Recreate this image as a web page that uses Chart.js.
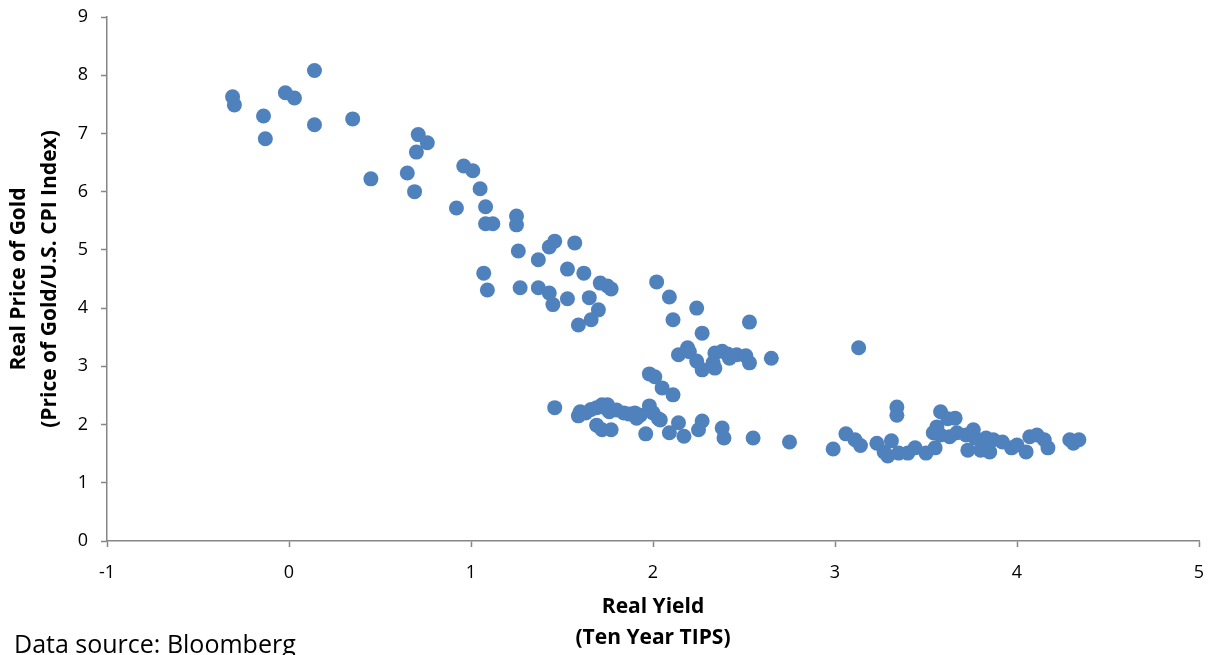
<!DOCTYPE html>
<html>
<head>
<meta charset="utf-8">
<script src="https://cdn.jsdelivr.net/npm/chart.js@4"></script>
<style>
  html, body { margin: 0; padding: 0; background: #fff; }
  #wrap { position: relative; width: 1216px; height: 655px; }
  #note { position: absolute; left: 14px; top: 626px; font: 25px "Open Sans", sans-serif; color: #000; white-space: nowrap; }
</style>
</head>
<body>
<div id="wrap">
  <canvas id="goldChart" width="1216" height="655"></canvas>
  <div id="note">Data source: Bloomberg</div>
</div>
<script>
// real yield (10y TIPS), %
const realYield = [
  -0.31, -0.30, -0.14, -0.13, -0.02, 0.03, 0.14, 0.14, 0.35, 0.45,
  0.65, 0.71, 0.76, 0.70, 0.69, 0.92, 0.96, 1.01, 1.05, 1.08,
  1.08, 1.12, 1.25, 1.25, 1.07, 1.09, 1.26, 1.27, 1.37, 1.37,
  1.43, 1.46, 1.57, 1.43, 1.45, 1.53, 1.62, 1.53, 1.65, 1.71,
  1.75, 1.77, 1.70, 1.66, 1.59, 2.02, 2.09, 2.24, 2.11, 2.27,
  2.53, 2.14, 2.19, 2.20, 2.24, 2.27, 2.33, 2.34, 2.34, 2.38,
  2.41, 2.42, 2.46, 2.51, 2.53, 2.65, 3.13,
  1.46, 1.59, 1.60, 1.63, 1.69, 1.72, 1.75, 1.76, 1.69, 1.72,
  1.77, 1.84, 1.90, 1.91, 1.98, 1.98, 2.01, 2.05, 2.11, 1.96,
  2.04, 2.09, 2.14, 2.17, 2.25, 2.27, 2.38, 2.39, 2.55, 2.75,
  1.66, 1.73, 1.80, 1.87, 1.93, 2.00, 2.03,
  3.34, 3.34, 2.99, 3.06, 3.11, 3.14, 3.23, 3.31, 3.27, 3.29,
  3.35, 3.40, 3.44, 3.50, 3.55, 3.58, 3.62, 3.66, 3.56, 3.54,
  3.58, 3.63, 3.67, 3.72, 3.76, 3.77, 3.73, 3.80, 3.85, 3.83,
  3.87, 3.92, 3.97, 4.00, 4.05, 4.07, 4.11, 4.15, 4.17, 4.29,
  4.31, 4.34
];
// gold price / US CPI index
const realGold = [
  7.63, 7.49, 7.30, 6.91, 7.70, 7.61, 8.08, 7.15, 7.25, 6.22,
  6.32, 6.98, 6.84, 6.68, 6.00, 5.72, 6.44, 6.36, 6.05, 5.74,
  5.45, 5.45, 5.58, 5.43, 4.60, 4.31, 4.98, 4.35, 4.83, 4.35,
  5.05, 5.15, 5.12, 4.26, 4.06, 4.67, 4.60, 4.16, 4.18, 4.43,
  4.38, 4.33, 3.97, 3.80, 3.71, 4.45, 4.19, 4.00, 3.80, 3.57,
  3.76, 3.20, 3.32, 3.25, 3.09, 2.94, 3.06, 2.97, 3.23, 3.26,
  3.21, 3.14, 3.20, 3.18, 3.06, 3.14, 3.32,
  2.29, 2.15, 2.22, 2.20, 2.29, 2.34, 2.34, 2.22, 1.99, 1.91,
  1.91, 2.20, 2.20, 2.11, 2.32, 2.87, 2.82, 2.63, 2.51, 1.84,
  2.08, 1.86, 2.03, 1.80, 1.91, 2.06, 1.94, 1.77, 1.77, 1.70,
  2.26, 2.30, 2.25, 2.18, 2.16, 2.20, 2.10,
  2.30, 2.16, 1.58, 1.84, 1.74, 1.64, 1.68, 1.72, 1.53, 1.46,
  1.51, 1.51, 1.60, 1.51, 1.60, 2.22, 2.10, 2.11, 1.96, 1.86,
  1.82, 1.79, 1.86, 1.82, 1.91, 1.77, 1.56, 1.56, 1.53, 1.77,
  1.74, 1.70, 1.60, 1.65, 1.53, 1.79, 1.82, 1.74, 1.60, 1.74,
  1.68, 1.74
];
const xTicks = [-1, 0, 1, 2, 3, 4, 5];
const yTicks = [0, 1, 2, 3, 4, 5, 6, 7, 8, 9];

const points = realYield.map((x, i) => ({ x: x, y: realGold[i] }));
const tickFont = { family: "Open Sans", size: 18 };
const titleFont = { family: "Open Sans", size: 21, weight: "bold", lineHeight: 1.45 };

new Chart(document.getElementById('goldChart').getContext('2d'), {
  type: 'scatter',
  data: {
    datasets: [{
      label: 'Real Price of Gold',
      data: points,
      backgroundColor: '#4f81bd',
      borderColor: '#4f81bd',
      pointRadius: 7.5,
      pointHoverRadius: 7.5,
      borderWidth: 0
    }]
  },
  options: {
    responsive: false,
    animation: false,
    layout: { padding: { left: 0, right: 17, top: 17, bottom: 0 } },
    plugins: { legend: { display: false }, tooltip: { enabled: false } },
    scales: {
      x: {
        type: 'linear',
        min: xTicks[0],
        max: xTicks[xTicks.length - 1],
        afterBuildTicks: s => { s.ticks = xTicks.map(v => ({ value: v })); },
        afterFit: s => { s.height = 114; s.paddingLeft = 0; s.paddingRight = 0; },
        border: { color: '#868686', width: 1.5 },
        grid: { drawOnChartArea: false, tickLength: 6, tickColor: '#868686', tickWidth: 1.5 },
        ticks: { color: '#000', font: tickFont, padding: 15 },
        title: {
          display: true,
          text: ['Real Yield', '(Ten Year TIPS)'],
          color: '#000',
          font: titleFont,
          padding: { top: 10, bottom: 2 }
        }
      },
      y: {
        type: 'linear',
        min: yTicks[0],
        max: yTicks[yTicks.length - 1],
        afterBuildTicks: s => { s.ticks = yTicks.map(v => ({ value: v })); },
        afterFit: s => { s.width = 107; s.paddingTop = 0; s.paddingBottom = 0; },
        border: { color: '#868686', width: 1.5 },
        grid: { drawOnChartArea: false, tickLength: 6, tickColor: '#868686', tickWidth: 1.5 },
        ticks: { color: '#000', font: tickFont, padding: 13 },
        title: {
          display: true,
          text: ['Real Price of Gold', '(Price of Gold/U.S. CPI Index)'],
          color: '#000',
          font: titleFont,
          padding: { top: 4, bottom: 0 }
        }
      }
    }
  }
});
</script>
</body>
</html>
